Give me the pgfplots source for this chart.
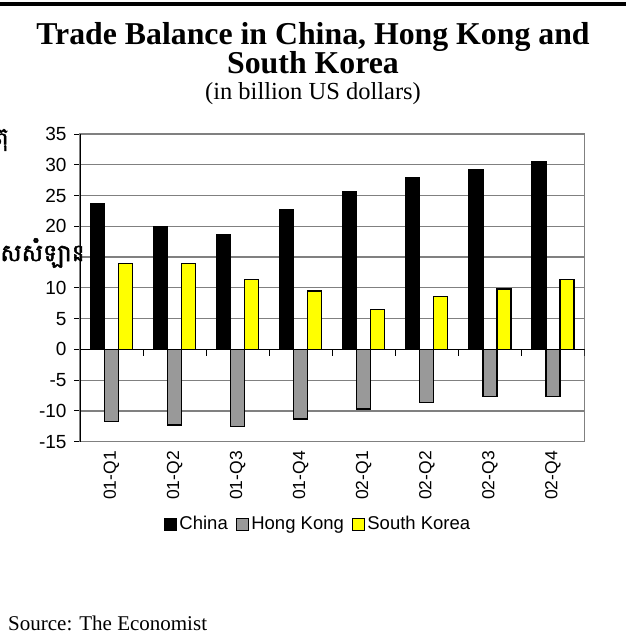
\documentclass[border=0pt]{standalone}
\usepackage{fontspec}
\usepackage{pgfplots}
\pgfplotsset{compat=1.18}
\setmainfont{Liberation Serif}
\setsansfont{Liberation Sans}
\newfontfamily\arial{Liberation Sans}
\newfontfamily\khmer[Script=Khmer,FakeBold=2]{Battambang}
\definecolor{hkgray}{RGB}{153,153,153}
\definecolor{gridgray}{RGB}{128,128,128}
\definecolor{skyellow}{RGB}{255,255,0}

\begin{document}
\begin{tikzpicture}
\useasboundingbox (0pt,0pt) rectangle (626pt,-634pt);
\fill[black] (0pt,-2.5pt) rectangle (626pt,-6.5pt);
\node[anchor=base, inner sep=0pt, font=\fontsize{31.8}{36}\selectfont\bfseries] at (313pt,-44.5pt) {Trade Balance in China, Hong Kong and};
\node[anchor=base, inner sep=0pt, font=\fontsize{31.8}{36}\selectfont\bfseries] at (313pt,-73.5pt) {South Korea};
\node[anchor=base, inner sep=0pt, font=\fontsize{24.5}{28}\selectfont] at (313pt,-99pt) {(in billion US dollars)};
\node[anchor=base west, inner sep=0pt, font=\fontsize{21}{24}\selectfont] at (8pt,-630pt) {Source: The Economist};

\begin{axis}[
  at={(80pt,-441.7pt)}, anchor=south west,
  scale only axis, width=504.5pt, height=307.7pt,
  ybar=0pt, bar width=14pt,
  xmin=-0.5, xmax=7.5, ymin=-15, ymax=35,
  ytick={-15,-10,...,35},
  yticklabels={-15,-10,-5,0,5,10,,20,25,30,35},
  xtick={0,...,7},
  xticklabels={01-Q1,01-Q2,01-Q3,01-Q4,02-Q1,02-Q2,02-Q3,02-Q4},
  ymajorgrids,
  grid style={gridgray, line width=1.2pt},
  axis line style={gridgray, line width=1.2pt},
  xtick style={draw=none},
  ytick style={black, line width=1pt},
  tick align=outside, major tick length=6pt,
  ytick pos=left,
  yticklabel style={font=\arial\fontsize{19}{21}\selectfont, xshift=-4pt},
  xticklabel style={rotate=90, anchor=east, font=\arial\fontsize{17.5}{20}\selectfont},
  legend columns=3,
  legend style={draw=none, at={(0.472,-0.271)}, anchor=center,
    font=\arial\fontsize{18.5}{21}\selectfont,
    nodes={text depth=4pt, text height=13pt},
    /tikz/every even column/.append style={column sep=6pt}},
  legend image code/.code={\draw[#1, draw=black, line width=1pt] (0pt,-5.5pt) rectangle (12.5pt,7pt);},
  every axis plot/.append style={draw=black, line width=1.2pt},
]
\addplot[fill=black] coordinates {(0,23.7) (1,20.0) (2,18.6) (3,22.7) (4,25.6) (5,27.9) (6,29.2) (7,30.5)};
\addplot[fill=hkgray] coordinates {(0,-11.7) (1,-12.3) (2,-12.5) (3,-11.3) (4,-9.7) (5,-8.6) (6,-7.7) (7,-7.7)};
\addplot[fill=skyellow] coordinates {(0,14.0) (1,14.0) (2,11.4) (3,9.5) (4,6.5) (5,8.6) (6,9.8) (7,11.3)};
\legend{China, Hong Kong, South Korea}
\draw[black, line width=1.2pt] (axis cs:-0.5,-15) -- (axis cs:-0.5,35);
\draw[black, line width=1.2pt] (axis cs:-0.5,0) -- (axis cs:7.5,0);
\draw[black, line width=1pt] (axis cs:0.5,0) -- (axis cs:0.5,-1);
\draw[black, line width=1pt] (axis cs:1.5,0) -- (axis cs:1.5,-1);
\draw[black, line width=1pt] (axis cs:2.5,0) -- (axis cs:2.5,-1);
\draw[black, line width=1pt] (axis cs:3.5,0) -- (axis cs:3.5,-1);
\draw[black, line width=1pt] (axis cs:4.5,0) -- (axis cs:4.5,-1);
\draw[black, line width=1pt] (axis cs:5.5,0) -- (axis cs:5.5,-1);
\draw[black, line width=1pt] (axis cs:6.5,0) -- (axis cs:6.5,-1);
\draw[black, line width=1pt] (axis cs:7.5,0) -- (axis cs:7.5,-1);
\end{axis}

\begin{scope}
\clip (0pt,-225pt) rectangle (82pt,-285pt);
\node[anchor=west, inner sep=0pt, font=\khmer\fontsize{24}{28}\selectfont] at (0pt,-253pt) {សសំឡាន};
\end{scope}
\begin{scope}
\clip (0pt,-125pt) rectangle (10pt,-160pt);
\node[anchor=east, inner sep=0pt, font=\khmer\fontsize{24}{28}\selectfont] at (9pt,-140pt) {តុ};
\end{scope}
\end{tikzpicture}
\end{document}
